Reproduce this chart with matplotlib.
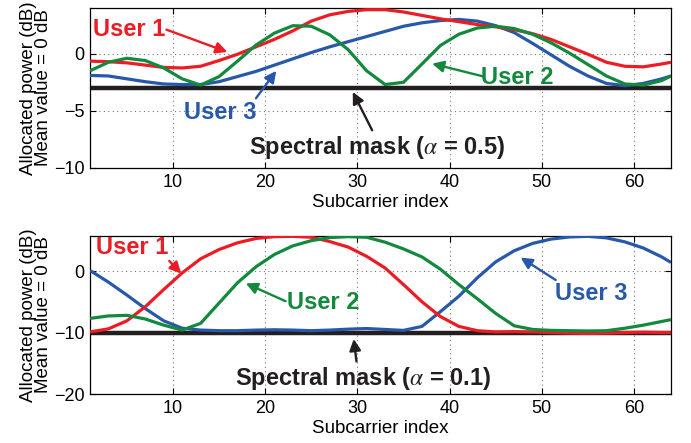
import numpy as np
import matplotlib
matplotlib.use("Agg")
import matplotlib.pyplot as plt

plt.rcParams['font.family'] = ['Liberation Sans', 'DejaVu Sans']
plt.rcParams['mathtext.fontset'] = 'stix'

# subcarrier positions the curves are sampled at
sc = [1, 3, 5, 7, 9, 11, 13, 15, 17, 19, 21, 23, 25, 27, 29, 31, 33,
      35, 37, 39, 41, 43, 45, 47, 49, 51, 53, 55, 57, 59, 61, 63, 64]

# alpha = 0.5 (upper panel), dB
top_user1 = [-0.65, -0.7, -0.8, -1.0, -1.2, -1.25, -1.1, -0.6, -0.05, 0.6, 1.25,
             2.0, 2.85, 3.4, 3.7, 3.85, 3.85, 3.65, 3.35, 3.05, 2.8, 2.55, 2.35,
             2.1, 1.75, 1.25, 0.6, -0.05, -0.75, -1.1, -1.15, -0.9, -0.75]
top_user2 = [-1.5, -0.75, -0.4, -0.6, -1.25, -2.2, -2.75, -2.0, -0.65, 0.75, 1.8,
             2.45, 2.4, 1.65, 0.35, -1.5, -2.7, -2.5, -0.9, 0.72, 1.7, 2.25, 2.4,
             2.2, 1.7, 0.95, 0.05, -0.95, -1.95, -2.65, -2.75, -2.35, -1.95]
top_user3 = [-1.9, -1.95, -2.2, -2.45, -2.65, -2.7, -2.7, -2.45, -2.0, -1.55, -1.0,
             -0.45, 0.1, 0.6, 1.05, 1.5, 1.95, 2.4, 2.7, 2.9, 3.0, 2.85, 2.45,
             1.85, 0.9, -0.1, -1.1, -1.95, -2.6, -2.8, -2.6, -2.2, -1.95]
top_mask = -3.0

# alpha = 0.1 (lower panel), dB
bot_user1 = [-9.9, -9.4, -8.1, -5.8, -3.0, -0.3, 2.0, 3.5, 4.6, 5.3, 5.6,
             5.65, 5.5, 4.8, 3.9, 2.4, 0.5, -2.2, -5.0, -7.4, -9.0, -9.7, -9.9,
             -9.85, -9.9, -10.0, -10.1, -10.15, -10.1, -10.0, -9.95, -10.0, -10.0]
bot_user2 = [-7.7, -7.3, -7.2, -7.8, -8.8, -9.6, -8.5, -5.2, -1.9, 0.7, 2.7,
             4.1, 4.95, 5.45, 5.6, 5.5, 4.7, 3.6, 2.3, 0.3, -2.2, -4.5, -6.9,
             -8.9, -9.5, -9.65, -9.7, -9.75, -9.7, -9.3, -8.8, -8.2, -7.9]
bot_user3 = [0.1, -1.8, -3.9, -6.1, -8.1, -9.3, -9.6, -9.7, -9.7, -9.6, -9.55,
             -9.6, -9.7, -9.6, -9.45, -9.35, -9.5, -9.65, -9.0, -6.6, -4.1, -1.1, 1.5,
             3.3, 4.5, 5.2, 5.55, 5.65, 5.4, 4.75, 3.75, 2.3, 1.4]
bot_mask = -10.0

red = '#ec1c24'
green = '#13893d'
blue = '#2759a8'
black = '#231f20'

fig = plt.figure(figsize=(6.91, 4.43), dpi=100)
ax1 = fig.add_axes([0.1302, 0.6208, 0.8408, 0.3612])
ax2 = fig.add_axes([0.1302, 0.1106, 0.8408, 0.3573])


def style(ax, ylim, yticks):
    ax.set_xlim(1, 64)
    ax.set_ylim(*ylim)
    ax.set_xticks([10, 20, 30, 40, 50, 60])
    ax.set_yticks(yticks)
    ax.grid(True, linestyle=(0, (1, 3)), color='#777777', linewidth=0.8)
    ax.tick_params(direction='in', top=True, right=True, labelsize=13,
                   length=4, width=0.8, pad=4)
    for s in ax.spines.values():
        s.set_linewidth(0.9)
    ax.set_xlabel('Subcarrier index', fontsize=13.5, labelpad=2.5)
    ax.set_ylabel('Allocated power (dB)\nMean value = 0 dB', fontsize=13.5,
                  linespacing=0.9, labelpad=1)


def curves(ax, u1, u2, u3, mask):
    ax.axhline(mask, color=black, lw=3.2, zorder=2)
    kw = dict(lw=2.3, solid_joinstyle='round', solid_capstyle='butt')
    ax.plot(sc, u3, color=blue, zorder=3, **kw)
    ax.plot(sc, u1, color=red, zorder=3, **kw)
    ax.plot(sc, u2, color=green, zorder=4, **kw)


def label(ax, text, pos, tail, head, color):
    ax.text(pos[0], pos[1], text, color=color, fontsize=17, fontweight='bold',
            ha='center', va='center', zorder=6)
    ax.annotate('', xy=head, xytext=tail, zorder=6,
                arrowprops=dict(arrowstyle='-|>', color=color, lw=1.7,
                                mutation_scale=17, shrinkA=0, shrinkB=0))


curves(ax1, top_user1, top_user2, top_user3, top_mask)
style(ax1, (-10, 4), [-10, -5, 0])
label(ax1, 'User 1', (5.3, 2.1), (9.3, 2.1), (15.9, 0.15), red)
label(ax1, 'User 3', (15.1, -5.16), (19.0, -3.9), (21.2, -1.5), blue)
label(ax1, 'User 2', (47.3, -2.1), (43.6, -1.98), (38.1, -0.87), green)
label(ax1, 'Spectral mask ($\\alpha$ = 0.5)', (32.1, -8.2), (31.6, -6.7),
      (29.5, -3.35), black)

curves(ax2, bot_user1, bot_user2, bot_user3, bot_mask)
style(ax2, (-20, 5.75), [-20, -10, 0])
label(ax2, 'User 1', (5.6, 3.8), (9.6, 1.65), (10.9, -0.4), red)
label(ax2, 'User 2', (26.3, -5.1), (22.2, -4.9), (17.9, -2.0), green)
label(ax2, 'User 3', (55.4, -3.7), (51.5, -1.45), (47.7, 2.2), blue)
label(ax2, 'Spectral mask ($\\alpha$ = 0.1)', (30.6, -17.4), (29.9, -14.7),
      (29.6, -11.05), black)

fig.savefig('out.png', dpi=100)
